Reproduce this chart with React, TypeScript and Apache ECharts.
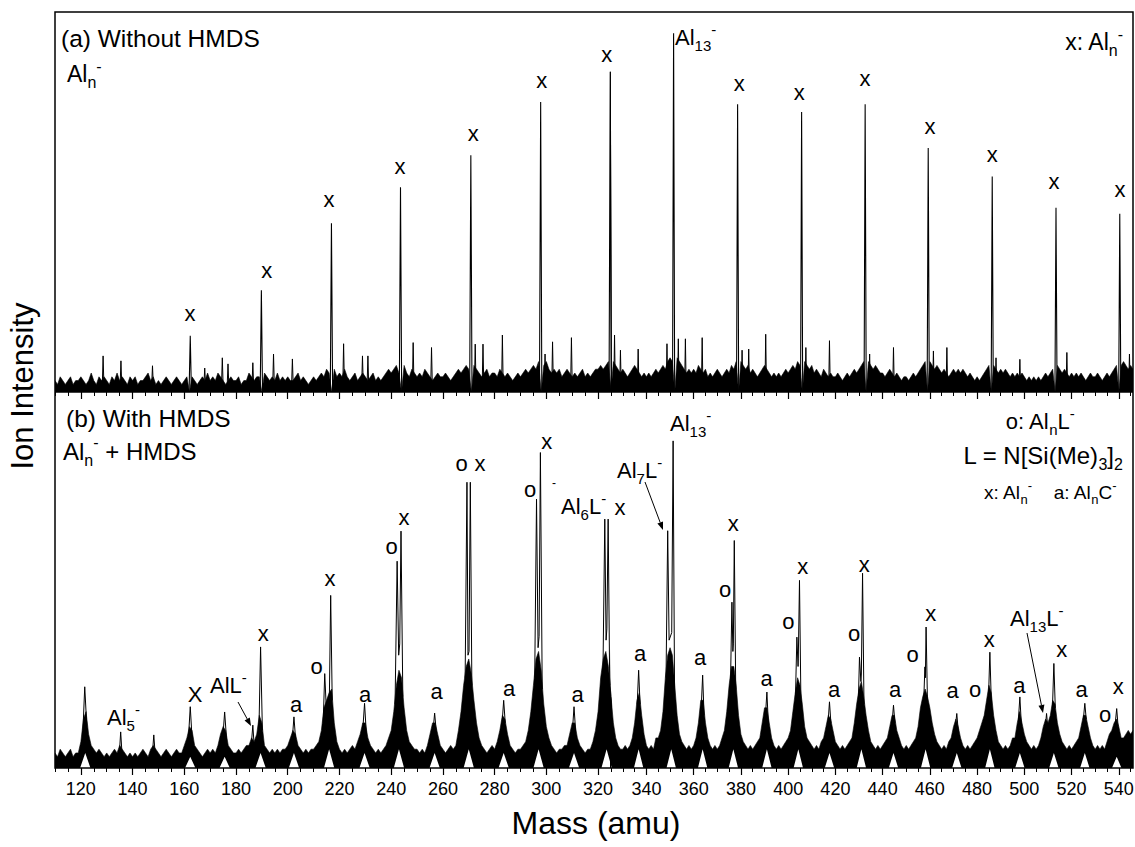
import React, { useEffect, useRef } from 'react';
import * as echarts from 'echarts';

// ---------------- DATA ----------------
const MASS_START = 110; // first mass of the sampled envelopes (1 amu step)
const MASS_BREAK = 325;
const MASS_END = 546;

const TICK_LABELS_LEFT = [120, 140, 160, 180, 200, 220, 240, 260, 280, 300, 320];
const TICK_LABELS_RIGHT = [340, 360, 380, 400, 420, 440, 460, 480, 500, 520, 540];

// (a) Without HMDS: noise envelope, 110..546 amu, 1 amu step (0 at the white notch under each big peak)
const TOP_ENVELOPE = [
  3,2,4,3,2,3,4,2,3,3, 4,3,2,3,5,3,2,4,3,4, 3,2,4,3,5,3,4,3,2,4, 3,4,2,3,3,4,5,3,4,2,
  3,2,3,4,3,2,3,4,3,2, 3,4,0,4,3,2,3,4,3,5, 3,4,3,5,4,3,2,3,4,3, 3,4,2,3,3,5,4,3,4,4,
  0,5,4,3,4,3,5,3,4,3, 4,3,3,4,5,3,4,3,2,3, 4,3,4,5,4,6,5,0,6,4, 5,4,6,4,3,4,5,3,4,5,
  4,3,4,5,3,4,3,4,5,6, 5,6,7,5,0,7,5,4,6,5, 4,5,4,6,5,4,3,4,5,4, 4,5,4,3,4,5,6,5,6,7,
  6,0,7,6,5,4,5,6,4,5, 5,4,6,5,4,5,4,3,4,5, 4,5,6,5,6,7,6,8,0,7, 8,6,5,6,5,6,4,5,6,5,
  4,5,4,5,6,4,5,4,5,6, 6,7,6,7,8,0,8,7,6,5, 6,5,4,5,6,7,6,5,4,5, 4,5,4,5,6,5,6,7,6,8,
  9,8,0,9,8,7,6,5,6,5, 6,5,7,6,5,6,4,5,4,5, 6,5,4,5,6,5,7,6,8,0, 8,7,6,7,5,6,5,4,5,6,
  7,6,5,4,5,4,5,4,5,6, 5,6,7,6,8,7,0,8,7,6, 7,5,6,5,4,6,5,4,5,4, 4,5,4,3,4,5,4,5,6,5,
  6,7,8,0,8,7,6,7,6,5, 5,4,5,6,5,4,5,4,3,4, 4,3,4,5,4,5,6,7,8,0, 8,7,6,7,6,5,6,5,4,5,
  6,5,6,5,6,5,4,5,4,3, 4,3,4,5,6,7,0,7,6,5, 6,5,6,5,4,5,4,5,4,5, 4,3,4,3,4,3,4,3,4,5,
  4,5,6,0,7,6,5,6,5,4, 5,4,5,4,5,4,3,4,5,4, 4,5,4,3,4,5,4,5,6,7, 0,7,8,7,6,7,6,
];

// (a) Al_n^- peaks: [mass, intensity]
const TOP_MAJOR_PEAKS = [
  [162.3, 14.8], [189.8, 26.8], [216.9, 44.4], [243.6, 53.9], [270.8, 62.3],
  [297.8, 76.3], [324.7, 84.3], [351.5, 94.4], [378.6, 75.7], [405.7, 73.7],
  [432.6, 75.7], [459.3, 64.2], [486.4, 56.7], [513.4, 48.5], [540.4, 46.9],
];

// (a) small spikes: [mass, intensity]
const TOP_MINOR_PEAKS = [
  [128.6, 9.5], [135.5, 8.2], [147.7, 6.9], [167.9, 6.3], [174.7, 9.0], [176.9, 7.4],
  [186.5, 7.7], [194.5, 10], [201.8, 8.7], [221.6, 12.7], [228.9, 9.5], [231, 9.5],
  [248.5, 13], [255.6, 11.7], [272.5, 12.6], [275.5, 12.6], [283, 15], [299.5, 10],
  [302.4, 13.2], [309.7, 14.3], [326.5, 15], [329, 11], [336.5, 11.3], [348.7, 12.7],
  [353.5, 14], [356.5, 14], [363.6, 14.3], [380.5, 11], [383.3, 11.3], [390.5, 15.2],
  [407.5, 11.7], [417.5, 13.5], [434.5, 10], [444.6, 11.7], [461.5, 10.8], [467.2, 11.7],
  [488, 9], [498.1, 8.6], [518, 10.4], [544.5, 10],
];

// (b) With HMDS: noise envelope incl. broad peak bodies, 110..546 amu, 1 amu step
const BOTTOM_ENVELOPE = [
  4,3,5,4,3,4,5,3,4,4, 7,13,15,9,6,5,4,5,4,3, 4,3,4,5,4,6,5,4,3,4, 3,4,3,4,5,4,3,5,6,5,
  4,3,4,5,4,3,4,5,4,4, 6,8,11,10,6,5,4,3,4,5, 4,5,4,6,9,11,10,6,5,4, 4,5,4,5,6,6,8,7,9,14,
  12,6,5,4,5,4,5,4,5,5, 6,8,10,9,6,5,4,5,4,5, 5,6,7,10,16,18,20,21,12,7, 5,4,5,4,5,6,5,7,9,12,
  12,8,6,5,4,5,4,5,6,8, 10,15,22,26,24,16,10,7,6,5, 5,4,5,4,6,9,12,12,9,6, 5,4,5,6,5,6,10,15,22,27,
  29,25,18,12,8,6,5,4,5,6, 5,7,10,14,13,9,6,5,4,5, 5,6,7,10,15,22,29,31,26,17, 11,8,6,5,4,5,5,6,6,9,
  12,12,8,6,5,4,5,5,7,10, 15,24,29,31,27,19,12,8,6,5, 5,6,5,6,8,12,18,20,14,9, 6,5,6,5,8,8,10,15,24,30,
  32,30,22,14,9,7,6,5,6,5, 6,8,12,18,18,12,8,6,5,6, 5,6,8,10,15,22,27,27,22,14, 9,7,6,5,6,5,6,7,8,12,
  16,16,12,8,6,5,6,5,6,7, 8,10,15,20,24,22,17,11,8,7, 6,5,6,5,7,8,11,14,13,10, 7,6,5,6,5,6,7,8,12,17,
  21,23,19,14,10,7,6,5,6,5, 6,7,8,11,14,14,10,8,6,5, 6,5,6,7,8,11,16,19,21,19, 16,12,9,7,6,5,6,5,7,8,
  11,13,11,8,6,5,6,5,6,7, 8,10,12,14,18,22,20,14,10,7, 6,5,6,5,6,8,8,12,15,12, 9,7,6,5,6,5,6,8,11,13,
  12,14,18,17,12,9,7,6,5,6, 5,6,7,8,11,14,14,11,8,6, 5,6,5,6,5,7,9,10,12,13, 11,8,8,9,10,9,10,
];

// (b) white hollow at the foot of each broad peak: [centre mass, height]
const BOTTOM_NOTCHES = [
  [121.7, 4], [162.3, 3], [175.6, 3], [189.5, 4], [202.4, 4], [216, 5], [229.7, 4], [243, 5],
  [256.8, 4], [270, 5], [283.5, 4], [297, 5], [310.7, 4], [323.3, 5], [336.7, 5], [350.5, 5],
  [363.8, 5], [376.8, 5], [391, 5], [404.3, 5], [417.5, 4], [431, 5], [444.6, 4], [458.2, 5],
  [471.4, 4], [485.4, 5], [498.1, 4], [512.5, 4], [525.6, 4], [539.1, 3],
];

// (b) thin peak tops: each list is one traced peak [mass, intensity]
const BOTTOM_PEAK_TRACES = [
  [[120.8, 10], [121.5, 21.6], [122.3, 11]],
  [[134.9, 4], [135.4, 9.6], [135.9, 4]],
  [[147.7, 4], [148.2, 8.8], [148.7, 4]],
  [[161.6, 8], [162.3, 16.3], [163, 8]],
  [[175, 9], [175.6, 14.9], [176.3, 8]],
  [[186, 7], [186.5, 11.4], [187, 6]],
  [[188.8, 8], [189.5, 32.2], [190.2, 10]],
  [[201.8, 8], [202.4, 13.6], [203, 8]],
  [[213.7, 12], [214.3, 25.1], [214.9, 16], [216.1, 19], [216.6, 45.9], [217.2, 18]],
  [[229, 10], [229.7, 17.2], [230.4, 9]],
  [[241.5, 17], [242.3, 55], [242.9, 30], [243.3, 33], [243.8, 63], [244.5, 19]],
  [[256.2, 10], [256.8, 14.6], [257.4, 10]],
  [[268.6, 24], [269.3, 76], [269.7, 30], [270.1, 31], [270.6, 76], [271.2, 22]],
  [[282.9, 12], [283.5, 18], [284.1, 12]],
  [[295.5, 24], [296.2, 71.5], [296.8, 32], [297.2, 35], [297.7, 83.9], [298.4, 21]],
  [[310.1, 10], [310.7, 16.3], [311.3, 10]],
  [[321.9, 26], [322.6, 66.2], [323.1, 34], [323.4, 37], [323.9, 66.2], [324.5, 22]],
  [[336.1, 17], [336.7, 26], [337.3, 17]],
  [[348.3, 24], [349, 63.1], [349.6, 34], [350.7, 36], [351.3, 87], [351.9, 21]],
  [[363.2, 16], [363.8, 24.7], [364.4, 14]],
  [[375.6, 23], [376.2, 44.1], [376.6, 31], [376.8, 33], [377.2, 60.5], [377.8, 21]],
  [[390.4, 14], [391, 20.2], [391.6, 12]],
  [[403.1, 19], [403.7, 34.8], [404.2, 27], [404.3, 29], [404.8, 49.9], [405.4, 18]],
  [[416.9, 12], [417.5, 17.6], [418.1, 12]],
  [[429.7, 17], [430.2, 29.5], [430.8, 23], [431, 25], [431.5, 51.8], [432.1, 17]],
  [[444, 12], [444.6, 16.7], [445.2, 12]],
  [[457.4, 18], [457.9, 26.9], [458.1, 24], [458.4, 37.5], [459, 17]],
  [[470.8, 11], [471.4, 14.5], [472, 10]],
  [[484.8, 18], [485.4, 30.8], [486, 18]],
  [[497.5, 13], [498.1, 18.9], [498.7, 12]],
  [[508.9, 11], [509.4, 14.5], [509.9, 11]],
  [[511.9, 16], [512.5, 27.8], [513.1, 16]],
  [[525, 13], [525.6, 17.2], [526.2, 13]],
  [[538.5, 12], [539.1, 15.8], [539.7, 11]],
];

// ---------------- ANNOTATION LAYOUT (pixels) ----------------
const TOP_X_MARKS = [
  [190, 315], [266.7, 272.7], [329, 201.7], [400, 168], [473.3, 135], [541.7, 82.7],
  [606.7, 56.7], [739.3, 85], [799.3, 94.3], [865, 80], [930, 128.3], [992.3, 156.7],
  [1054, 183.3], [1120, 191.7],
];
const BOTTOM_MARKS: [string, number, number][] = [
  ['x', 263.3, 635], ['a', 296, 706.7], ['o', 316.7, 668.3], ['x', 330, 580], ['a', 365, 696.7],
  ['o', 391.7, 548.3], ['x', 404, 519.3], ['a', 436.7, 693.3], ['o', 461.7, 465], ['x', 480, 465],
  ['a', 509, 690], ['o', 530, 491.7], ['x', 546.7, 443.3], ['a', 577.7, 696.7], ['x', 620, 509],
  ['a', 640, 655], ['a', 700, 659.3], ['o', 725, 591.7], ['x', 733.3, 525], ['a', 766.7, 680],
  ['o', 788.3, 623.3], ['x', 802.7, 568.3], ['a', 834, 691.7], ['o', 854, 635], ['x', 864.3, 566.7],
  ['a', 895, 691.7], ['o', 912.7, 656.7], ['x', 930.7, 615.7], ['a', 952.7, 692.7], ['o', 975, 691.7],
  ['x', 989.3, 641.7], ['a', 1019.3, 687.3], ['x', 1061.7, 651.7], ['a', 1081.7, 691.7],
  ['o', 1105, 716.7], ['x', 1118.3, 688.3],
];

const FONT = '"Liberation Sans", Arial, Helvetica, sans-serif';

function richText(text: string, x: number, y: number, size: number, align = 'center', extra: any = {}) {
  const sub = Math.round(size * 0.68);
  return {
    type: 'text',
    x,
    y,
    z: 60,
    silent: true,
    ...extra,
    style: {
      text,
      fill: '#000',
      fontFamily: FONT,
      fontSize: size,
      align,
      verticalAlign: 'middle',
      textAlign: align,
      textVerticalAlign: 'middle',
      rich: {
        n: { fontSize: size, fontFamily: FONT, fill: '#000', lineHeight: Math.round(size * 1.4) },
        s: { fontSize: sub, fontFamily: FONT, fill: '#000', verticalAlign: 'bottom', lineHeight: sub + 1 },
        p: { fontSize: sub, fontFamily: FONT, fill: '#000', verticalAlign: 'top', lineHeight: sub + 1 },
      },
    },
  };
}

function arrow(x1: number, y1: number, x2: number, y2: number) {
  const a = Math.atan2(y2 - y1, x2 - x1);
  const L = 8, W = 3;
  const bx = x2 - L * Math.cos(a), by = y2 - L * Math.sin(a);
  return [
    { type: 'line', z: 60, silent: true, shape: { x1, y1, x2: bx, y2: by }, style: { stroke: '#000', lineWidth: 1 } },
    {
      type: 'polygon', z: 60, silent: true,
      shape: { points: [[x2, y2], [bx + W * Math.sin(a), by - W * Math.cos(a)], [bx - W * Math.sin(a), by + W * Math.cos(a)]] },
      style: { fill: '#000' },
    },
  ];
}

function buildOption() {
  const panels = [
    { top: 12, height: 380, labels: false },
    { top: 392, height: 376, labels: true },
  ];
  const cols = [
    { left: 55, width: 556, min: MASS_START, max: MASS_BREAK, labels: TICK_LABELS_LEFT },
    { left: 611, width: 522, min: MASS_BREAK, max: MASS_END, labels: TICK_LABELS_RIGHT },
  ];

  const envelope = (arr: number[]) => arr.map((v, i) => [MASS_START + i, v]);
  const sticks = (list: number[][], base: number, hw: number) => {
    const out: any[] = [];
    list.forEach(([m, h]) => { out.push([m - hw, base], [m, h], [m + hw, base], [m + hw, '-']); });
    return out;
  };
  const traces = (list: number[][][]) => {
    const out: any[] = [];
    list.forEach((seg) => { seg.forEach((p) => out.push(p)); out.push([seg[seg.length - 1][0], '-']); });
    return out;
  };
  const notches = (list: number[][]) => {
    const out: any[] = [[MASS_START, 0]];
    list.forEach(([c, h]) => { out.push([c - 2, 0], [c, h], [c + 2, 0]); });
    out.push([MASS_END, 0]);
    return out;
  };

  const grid: any[] = [];
  const xAxis: any[] = [];
  const yAxis: any[] = [];
  const series: any[] = [];

  panels.forEach((p, pi) => {
    cols.forEach((c, ci) => {
      const g = pi * 2 + ci;
      grid.push({ left: c.left, width: c.width, top: p.top, height: p.height, containLabel: false, outerBoundsMode: 'none' });
      const minor: number[] = [];
      for (let v = c.min; v <= c.max; v += 5) minor.push(v);
      xAxis.push({
        type: 'value', gridIndex: g, min: c.min, max: c.max, position: 'bottom',
        axisLine: { show: false }, splitLine: { show: false },
        axisTick: { show: true, customValues: c.labels, length: 7, inside: false, lineStyle: { color: '#000', width: 1.2 } },
        axisLabel: {
          show: p.labels, customValues: c.labels, color: '#000', fontFamily: FONT, fontSize: 18, margin: 12,
        },
      });
      xAxis.push({
        type: 'value', gridIndex: g, min: c.min, max: c.max, position: 'bottom',
        axisLine: { show: false }, splitLine: { show: false },
        axisTick: { show: true, customValues: minor, length: 4, inside: false, lineStyle: { color: '#000', width: 1 } },
        axisLabel: { show: false },
      });
      yAxis.push({ type: 'value', gridIndex: g, min: 0, max: 100, show: false });

      const xi = g * 2;
      const common = { xAxisIndex: xi, yAxisIndex: g, symbol: 'none', silent: true, animation: false, clip: true };
      if (pi === 0) {
        series.push({ ...common, type: 'line', data: envelope(TOP_ENVELOPE), lineStyle: { color: '#000', width: 0.6 }, areaStyle: { color: '#000', opacity: 1 } });
        series.push({ ...common, type: 'line', data: sticks(TOP_MINOR_PEAKS, 2, 0.3), connectNulls: false, lineStyle: { color: '#000', width: 1 } });
        series.push({ ...common, type: 'line', data: sticks(TOP_MAJOR_PEAKS, 0, 0.45), connectNulls: false, lineStyle: { color: '#000', width: 1.1 } });
      } else {
        series.push({ ...common, type: 'line', data: envelope(BOTTOM_ENVELOPE), lineStyle: { color: '#000', width: 0.6 }, areaStyle: { color: '#000', opacity: 1 } });
        series.push({ ...common, type: 'line', data: notches(BOTTOM_NOTCHES), lineStyle: { width: 0, opacity: 0 }, areaStyle: { color: '#fff', opacity: 1 } });
        series.push({ ...common, type: 'line', data: traces(BOTTOM_PEAK_TRACES), connectNulls: false, lineStyle: { color: '#000', width: 1 } });
      }
    });
  });

  const graphics: any[] = [
    { type: 'rect', z: 55, silent: true, shape: { x: 55, y: 12, width: 1078, height: 756 }, style: { fill: 'none', stroke: '#000', lineWidth: 1.5 } },
    { type: 'line', z: 55, silent: true, shape: { x1: 55, y1: 392, x2: 1133, y2: 392 }, style: { stroke: '#000', lineWidth: 1.5 } },
    // top panel texts
    richText('{n|(a) Without HMDS}', 61, 38, 24.5, 'left'),
    richText('{n|Al}{s|n}{p|-}', 67, 74, 23, 'left'),
    richText('{n|x: Al}{s|n}{p|-}', 1123, 42, 23, 'right'),
    richText('{n|Al}{s|13}{p|-}', 675, 37, 22, 'left'),
    ...TOP_X_MARKS.map(([x, y]) => richText('{n|x}', x, y - 2, 22)),
    // bottom panel texts
    richText('{n|(b) With HMDS}', 66, 418, 24.5, 'left'),
    richText('{n|Al}{s|n}{p|-}{n| + HMDS}', 63, 451, 24, 'left'),
    richText('{n|o: Al}{s|n}{n|L}{p|-}', 1040, 421, 22),
    richText('{n|L = N[Si(Me)}{s|3}{n|]}{s|2}', 1043, 455, 24),
    richText('{n|x: Al}{s|n}{p|-}{n|    a: Al}{s|n}{n|C}{p|-}', 1050, 492, 19),
    richText('{n|Al}{s|13}{p|-}', 670, 423, 22, 'left'),
    richText('{n|Al}{s|7}{n|L}{p|-}', 617, 470, 22, 'left'),
    richText('{n|Al}{s|6}{n|L}{p|-}', 561, 506, 22, 'left'),
    richText('{n|-}', 554, 483, 12),
    richText('{n|Al}{s|5}{p|-}', 107, 717, 22, 'left'),
    richText('{n|X}', 195, 694, 22),
    richText('{n|AlL}{p|-}', 210, 685, 22, 'left'),
    richText('{n|Al}{s|13}{n|L}{p|-}', 1010, 618, 22, 'left'),
    ...BOTTOM_MARKS.map(([t, x, y]) => richText(`{n|${t}}`, x, y - 2, 22)),
    ...arrow(238, 702, 251, 726),
    ...arrow(645, 482, 663, 530),
    ...arrow(1027, 633, 1043, 713),
    // axis titles
    richText('{n|Ion Intensity}', 22, 386, 31, 'center', { rotation: Math.PI / 2 }),
    richText('{n|Mass (amu)}', 596, 823, 32),
  ];

  return {
    animation: false,
    backgroundColor: '#fff',
    grid,
    xAxis,
    yAxis,
    series,
    graphic: { elements: graphics },
  };
}

export default function App() {
  const ref = useRef<HTMLDivElement>(null);
  useEffect(() => {
    const chart = echarts.init(ref.current as HTMLDivElement, null, { renderer: 'svg' });
    chart.setOption(buildOption() as any);
    return () => chart.dispose();
  }, []);
  return (
    <div
      ref={ref}
      style={{ position: 'fixed', left: 0, top: 0, width: 1135, height: 847, background: '#fff' }}
    />
  );
}
